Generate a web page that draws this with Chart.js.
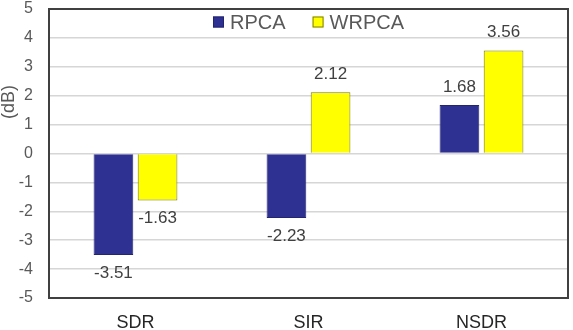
<!DOCTYPE html>
<html>
<head>
<meta charset="utf-8">
<script src="https://cdn.jsdelivr.net/npm/chart.js@4/dist/chart.umd.min.js"></script>
<style>
  html, body { margin: 0; padding: 0; background: #ffffff; }
</style>
</head>
<body>
<canvas id="c" width="573" height="330"></canvas>
<script>
const categories = ['SDR', 'SIR', 'NSDR'];
const rpcaValues = [-3.51, -2.23, 1.68];
const wrpcaValues = [-1.63, 2.12, 3.56];
const seriesNames = ['RPCA', 'WRPCA'];
const yTitle = '(dB)';
const yMin = -5, yMax = 5, yStep = 1;

const FONT = "'Liberation Sans', Arial, sans-serif";
const TEXT = '#595959';

const frame = {
  id: 'plotFrame',
  afterDraw(chart) {
    const a = chart.chartArea, ctx = chart.ctx;
    ctx.save();
    ctx.strokeStyle = '#404040';
    ctx.lineWidth = 2;
    ctx.strokeRect(a.left, a.top, a.right - a.left, a.bottom - a.top);
    ctx.restore();
    // rotated axis title (partly cut at the left edge as in the reference)
    ctx.save();
    ctx.translate(14, 102);
    ctx.rotate(-Math.PI / 2);
    ctx.fillStyle = TEXT;
    ctx.font = '18px ' + FONT;
    ctx.textAlign = 'center';
    ctx.textBaseline = 'alphabetic';
    ctx.fillText(yTitle, 0, 0);
    ctx.restore();
    // legend inside the plot area, top centre
    const box = 11, gapText = 6, gapItem = 27;
    ctx.save();
    ctx.font = '20px ' + FONT;
    const items = chart.data.datasets.map(ds => ({ ds, w: ctx.measureText(ds.label).width }));
    const total = items.reduce((s, it) => s + box + gapText + it.w, 0) + gapItem * (items.length - 1);
    let x = (a.left + a.right) / 2 - total / 2;
    const cy = a.top + 13;
    items.forEach(it => {
      ctx.fillStyle = it.ds.backgroundColor;
      ctx.fillRect(x, cy - box / 2, box, box);
      ctx.strokeStyle = it.ds.borderColor;
      ctx.lineWidth = 1;
      ctx.strokeRect(x + 0.5, cy - box / 2 + 0.5, box - 1, box - 1);
      x += box + gapText;
      ctx.fillStyle = TEXT;
      ctx.textAlign = 'left';
      ctx.textBaseline = 'middle';
      ctx.fillText(it.ds.label, x, cy + 1);
      x += it.w + gapItem;
    });
    ctx.restore();
  }
};

const valueLabels = {
  id: 'valueLabels',
  afterDatasetsDraw(chart) {
    const ctx = chart.ctx;
    ctx.save();
    ctx.fillStyle = '#404040';
    ctx.font = '17px ' + FONT;
    ctx.textAlign = 'center';
    ctx.textBaseline = 'middle';
    chart.data.datasets.forEach((ds, di) => {
      const meta = chart.getDatasetMeta(di);
      meta.data.forEach((bar, i) => {
        const v = ds.data[i];
        const y = v >= 0 ? bar.y - 18 : bar.y + 18;
        ctx.fillText(v.toFixed(2), bar.x, y);
      });
    });
    ctx.restore();
  }
};

new Chart(document.getElementById('c'), {
  type: 'bar',
  data: {
    labels: categories,
    datasets: [
      { label: seriesNames[0], data: rpcaValues, backgroundColor: '#2E3192', borderColor: '#23256e', borderWidth: 1,
        categoryPercentage: 0.51, barPercentage: 0.9 },
      { label: seriesNames[1], data: wrpcaValues, backgroundColor: '#FFFF00', borderColor: '#7a7a1a', borderWidth: 1,
        categoryPercentage: 0.51, barPercentage: 0.9 }
    ]
  },
  options: {
    responsive: false,
    animation: false,
    devicePixelRatio: 1,
    layout: { padding: { left: 0, right: 5, top: 9, bottom: 0 } },
    plugins: {
      legend: { display: false },
      tooltip: { enabled: false }
    },
    scales: {
      x: {
        grid: { display: false },
        ticks: { color: '#262626', font: { family: FONT, size: 18 }, padding: 6 },
        afterFit(s) { s.height = 32; s.paddingLeft = 0; s.paddingRight = 0; }
      },
      y: {
        min: yMin, max: yMax,
        grid: { color: '#d6d6d6', lineWidth: 1.5, drawTicks: false },
        ticks: { stepSize: yStep, color: TEXT, font: { family: FONT, size: 16 }, padding: 16 },
        afterFit(s) { s.width = 49; s.paddingTop = 0; s.paddingBottom = 0; }
      }
    }
  },
  plugins: [frame, valueLabels]
});
</script>
</body>
</html>
